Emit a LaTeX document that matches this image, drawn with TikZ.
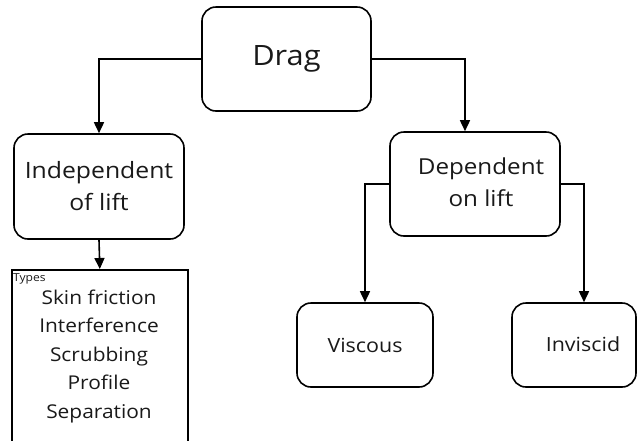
\documentclass[tikz,border=0pt]{standalone}
\usepackage{fontspec}
\setmainfont{Open Sans}[FakeStretch=1.1]
\usetikzlibrary{arrows.meta}
\begin{document}
\begin{tikzpicture}[x=1pt,y=-1pt,
  box/.style={draw=black,line width=1.6pt,rounded corners=14pt,inner sep=0pt,align=center,text=black!90},
  conn/.style={draw=black,line width=1.6pt,-{Triangle[length=11pt,width=10pt]}}]
\useasboundingbox (0,0) rectangle (638,440);
\clip (0,0) rectangle (638,440);
\node[box,minimum width=169pt,minimum height=104pt,font=\fontsize{28}{36}\selectfont] (drag) at (286.5,59) {Drag};
\node[box,minimum width=170pt,minimum height=105pt,font=\fontsize{22.5}{32}\selectfont] (indep) at (99,186.5) {Independent\\of lift};
\node[box,minimum width=170pt,minimum height=104pt] (dep) at (475,184) {};
\node[font=\fontsize{22}{32}\selectfont,text=black!90,align=center] (deptext) at (481,182) {Dependent\\on lift};
\node[box,minimum width=136pt,minimum height=84pt,font=\fontsize{19.5}{24}\selectfont] (visc) at (365,345) {Viscous};
\node[box,minimum width=124pt,minimum height=84pt] (invi) at (574,345) {};
\node[font=\fontsize{19.5}{24}\selectfont,text=black!90] (invitext) at (583,344) {Inviscid};
\node[draw=black,line width=1.6pt,minimum width=176pt,minimum height=200pt,inner sep=0pt,anchor=north west] (types) at (11,269) {};
\node[font=\fontsize{11}{12}\selectfont,anchor=base west,inner sep=0pt,text=black!90] (typeslabel) at (13,281) {Types};
\node[font=\fontsize{19}{28.5}\selectfont,align=center,anchor=base,inner sep=0pt,text=black!90] (list) at (99,418) {Skin friction\\Interference\\Scrubbing\\Profile\\Separation};
\draw[conn] (drag.west) -| (indep.north);
\draw[conn] (drag.east) -| ([xshift=-10pt]dep.north);
\draw[conn] (indep.south) -- (types.north);
\draw[conn] (dep.west) -| (visc.north);
\draw[conn] (dep.east) -| ([xshift=10pt]invi.north);
\end{tikzpicture}
\end{document}
